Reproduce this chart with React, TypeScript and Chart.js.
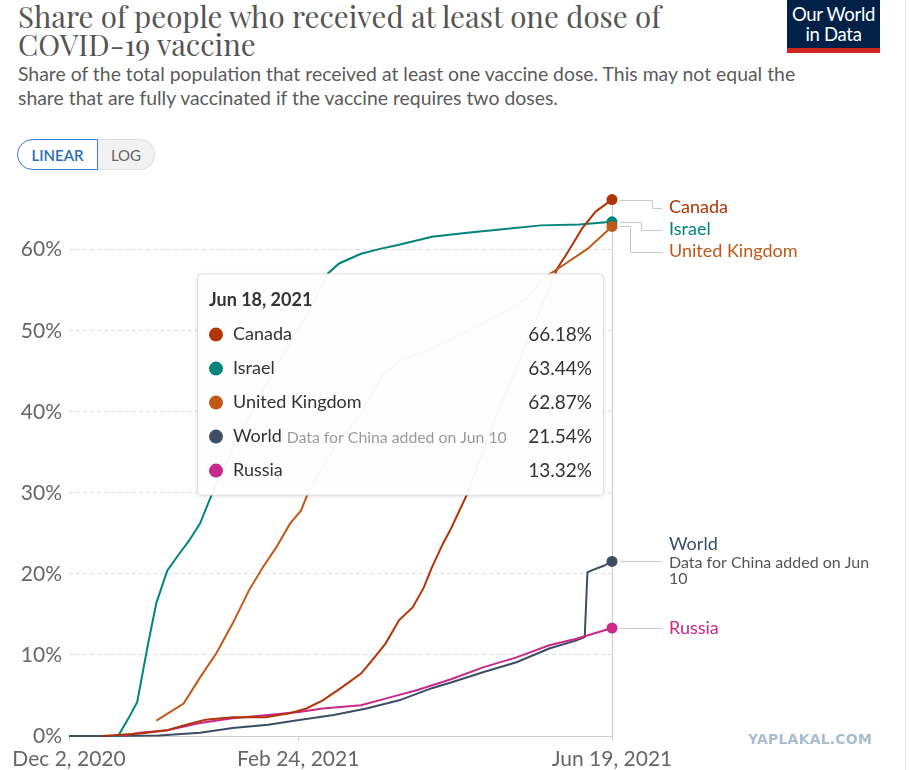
import React, { useEffect, useRef } from "react";
import { Chart, registerables } from "chart.js";

Chart.register(...registerables);

// ---------- data ----------
const tickDays = [0, 84, 199];
const tickLabels = ["Dec 2, 2020", "Feb 24, 2021", "Jun 19, 2021"];
const yTicks = [0, 10, 20, 30, 40, 50, 60];
const hoverTitle = "Jun 18, 2021";

const seriesNames = ["Canada", "Israel", "United Kingdom", "World", "Russia"];
const seriesColors = ["#B13507", "#00847E", "#C05917", "#3C4E66", "#C8298A"];
const seriesNotes = ["", "", "", "Data for China added on Jun 10", ""];
const drawOrder = [1, 2, 0, 4, 3];

const canadaDays = [12, 26, 36, 43, 50, 60, 72, 81, 87, 93, 100, 107, 111, 116, 121, 126, 130, 133, 137, 140, 146, 154, 166, 179, 183, 188, 193, 199];
const canadaValues = [0, 0.3, 0.7, 1.4, 2.0, 2.3, 2.3, 2.8, 3.4, 4.4, 6.0, 7.7, 9.3, 11.4, 14.3, 15.9, 18.3, 20.8, 23.7, 25.6, 29.9, 37.3, 47.1, 57.7, 59.8, 62.6, 64.7, 66.18];

const israelDays = [16, 18, 22, 25, 29, 32, 36, 40, 44, 48, 51, 53, 62, 69, 75, 82, 88, 93, 95, 99, 107, 114, 121, 133, 146, 158, 173, 187, 199];
const israelValues = [0, 0, 2.3, 4.2, 11.4, 16.4, 20.4, 22.3, 24.1, 26.2, 28.7, 30.3, 36.9, 41.3, 45.0, 49.1, 52.4, 55.7, 57.1, 58.3, 59.5, 60.1, 60.6, 61.6, 62.1, 62.5, 63.0, 63.1, 63.44];

const ukDays = [32, 42, 48, 54, 60, 66, 71, 76, 81, 85, 88, 97, 107, 115, 121, 133, 146, 158, 168, 174, 182, 190, 199];
const ukValues = [1.9, 4.0, 7.2, 10.2, 13.9, 18.0, 20.8, 23.3, 26.2, 27.8, 30.3, 35.5, 39.7, 44.6, 46.2, 47.8, 49.9, 52.0, 54.0, 56.5, 58.3, 60.1, 62.87];

const worldDays = [0, 14, 33, 48, 60, 73, 85, 97, 109, 121, 133, 140, 152, 164, 176, 186, 189, 190, 192, 196, 199];
const worldValues = [0, 0, 0.05, 0.4, 1.0, 1.4, 2.0, 2.6, 3.4, 4.4, 5.9, 6.6, 7.9, 9.1, 10.8, 11.8, 12.2, 20.2, 20.5, 21.0, 21.54];

const russiaDays = [19, 26, 36, 48, 60, 73, 85, 93, 107, 118, 128, 140, 152, 164, 176, 186, 193, 199];
const russiaValues = [0, 0.4, 0.7, 1.6, 2.2, 2.6, 3.0, 3.4, 3.8, 4.8, 5.7, 7.0, 8.5, 9.7, 11.2, 12.0, 12.7, 13.32];

const seriesDays = [canadaDays, israelDays, ukDays, worldDays, russiaDays];
const seriesValues = [canadaValues, israelValues, ukValues, worldValues, russiaValues];

const FONT = "Lato, 'Noto Sans', sans-serif";

function wrap(ctx: CanvasRenderingContext2D, text: string, maxW: number): string[] {
  const words = text.split(" ");
  const lines: string[] = [];
  let cur = "";
  for (const w of words) {
    const t = cur ? cur + " " + w : w;
    if (ctx.measureText(t).width > maxW && cur) {
      lines.push(cur);
      cur = w;
    } else cur = t;
  }
  if (cur) lines.push(cur);
  return lines;
}

const overlayPlugin = {
  id: "owidOverlay",
  beforeDatasetsDraw(chart: any) {
    const { ctx, chartArea, scales } = chart;
    const lastDay = Math.max(...seriesDays.map((d) => d[d.length - 1]));
    const x = Math.round(scales.x.getPixelForValue(lastDay)) + 0.5;
    ctx.save();
    ctx.strokeStyle = "#cccccc";
    ctx.lineWidth = 1;
    ctx.beginPath();
    ctx.moveTo(x, chartArea.top);
    ctx.lineTo(x, chartArea.bottom);
    ctx.stroke();
    ctx.restore();
  },
  afterDraw(chart: any) {
    const { ctx, chartArea, scales } = chart;
    const xs = scales.x;
    const ys = scales.y;
    ctx.save();

    // ---------- end labels ----------
    const labelX = chartArea.right + 57;
    const items = seriesNames.map((name, i) => {
      const d = seriesDays[i];
      const v = seriesValues[i];
      ctx.font = "16px " + FONT;
      const notes = seriesNotes[i] ? wrap(ctx, seriesNotes[i], 210) : [];
      const offsets = [0];
      notes.forEach((_, k) => offsets.push(18 + 16 * k));
      const span = offsets[offsets.length - 1];
      const dotX = xs.getPixelForValue(d[d.length - 1]);
      const dotY = ys.getPixelForValue(v[v.length - 1]);
      return { i, name, notes, offsets, span, dotX, dotY, nameY: dotY - span / 2, top: 0, bottom: 0 };
    });
    items.sort((a, b) => a.dotY - b.dotY);
    let prevBottom = chartArea.top - 3;
    items.forEach((it) => {
      let top = it.nameY - 11;
      if (top < prevBottom) top = prevBottom;
      it.nameY = top + 11;
      it.top = top;
      it.bottom = it.nameY + it.span + 11;
      prevBottom = it.bottom;
    });
    const groups: any[][] = [];
    items.forEach((it, k) => {
      if (k > 0 && Math.abs(it.top - items[k - 1].bottom) < 0.5) groups[groups.length - 1].push(it);
      else groups.push([it]);
    });
    groups.forEach((g) => {
      const n = g.length;
      g.forEach((it, k) => {
        const targetY = it.nameY + it.span / 2;
        const x0 = it.dotX + 8;
        const x1 = labelX - 7;
        ctx.strokeStyle = "#c8c8c8";
        ctx.lineWidth = 1;
        ctx.beginPath();
        if (Math.abs(targetY - it.dotY) < 1) {
          ctx.moveTo(x0, Math.round(it.dotY) + 0.5);
          ctx.lineTo(x1, Math.round(it.dotY) + 0.5);
        } else {
          const ex = Math.round(it.dotX + 18 + (n - 1 - k) * 11) + 0.5;
          ctx.moveTo(x0, Math.round(it.dotY) + 0.5);
          ctx.lineTo(ex, Math.round(it.dotY) + 0.5);
          ctx.lineTo(ex, Math.round(targetY) + 0.5);
          ctx.lineTo(x1, Math.round(targetY) + 0.5);
        }
        ctx.stroke();
        ctx.textBaseline = "middle";
        ctx.textAlign = "left";
        ctx.fillStyle = seriesColors[it.i];
        ctx.font = "18px " + FONT;
        ctx.fillText(it.name, labelX, it.nameY);
        ctx.font = "16px " + FONT;
        ctx.fillStyle = "#555555";
        it.notes.forEach((t: string, j: number) => ctx.fillText(t, labelX, it.nameY + it.offsets[j + 1]));
      });
    });

    // ---------- tooltip ----------
    const bx = chartArea.left + 128;
    const by = chartArea.top + 74;
    const bw = 407;
    const bh = 222;
    ctx.save();
    ctx.shadowColor = "rgba(0,0,0,0.12)";
    ctx.shadowBlur = 4;
    ctx.shadowOffsetY = 1;
    ctx.fillStyle = "rgba(255,255,255,0.96)";
    ctx.beginPath();
    ctx.roundRect(bx, by, bw, bh, 4);
    ctx.fill();
    ctx.restore();
    ctx.strokeStyle = "rgba(0,0,0,0.12)";
    ctx.lineWidth = 1;
    ctx.beginPath();
    ctx.roundRect(bx + 0.5, by + 0.5, bw - 1, bh - 1, 4);
    ctx.stroke();

    ctx.textBaseline = "middle";
    ctx.textAlign = "left";
    ctx.fillStyle = "#333333";
    ctx.font = "bold 18px " + FONT;
    ctx.fillText(hoverTitle, bx + 12, by + 27);

    const rows = seriesNames
      .map((name, i) => ({ name, i, v: seriesValues[i][seriesValues[i].length - 1] }))
      .sort((a, b) => b.v - a.v);
    rows.forEach((r, k) => {
      const cy = by + 61 + 34 * k;
      ctx.fillStyle = seriesColors[r.i];
      ctx.beginPath();
      ctx.arc(bx + 19, cy, 7, 0, Math.PI * 2);
      ctx.fill();
      ctx.textAlign = "left";
      ctx.fillStyle = "#333333";
      ctx.font = "18px " + FONT;
      ctx.fillText(r.name, bx + 36, cy);
      if (seriesNotes[r.i]) {
        const w = ctx.measureText(r.name).width;
        ctx.font = "15.8px " + FONT;
        ctx.fillStyle = "#9a9a9a";
        ctx.fillText(seriesNotes[r.i], bx + 36 + w + 5, cy + 1);
      }
      ctx.textAlign = "right";
      ctx.fillStyle = "#333333";
      ctx.font = "19px " + FONT;
      ctx.fillText(r.v.toFixed(2) + "%", bx + bw - 12, cy);
    });
    ctx.restore();
  },
};

export default function App() {
  const ref = useRef<HTMLCanvasElement>(null);

  useEffect(() => {
    const canvas = ref.current;
    if (!canvas) return;
    const maxVal = Math.max(...seriesValues.map((v) => Math.max(...v)));
    const maxDay = Math.max(...seriesDays.map((d) => d[d.length - 1]));
    const datasets = seriesNames.map((name, i) => ({
      label: name,
      data: seriesDays[i].map((d, j) => ({ x: d, y: seriesValues[i][j] })),
      borderColor: seriesColors[i],
      backgroundColor: seriesColors[i],
      pointBackgroundColor: seriesColors[i],
      borderWidth: 2,
      pointRadius: (c: any) => (c.dataIndex === seriesDays[i].length - 1 ? 5.5 : 0),
      pointBorderWidth: 0,
      tension: 0,
      clip: false,
      order: drawOrder[i],
    }));
    const chart = new Chart(canvas, {
      type: "line",
      data: { datasets },
      options: {
        animation: false,
        responsive: false,
        events: [],
        layout: { padding: { top: 18, right: 297, left: 0, bottom: 0 } },
        plugins: { legend: { display: false }, tooltip: { enabled: false } },
        scales: {
          x: {
            type: "linear",
            min: 0,
            max: maxDay,
            afterBuildTicks: (axis: any) => {
              axis.ticks = tickDays.map((v) => ({ value: v }));
            },
            afterFit: (scale: any) => {
              scale.height = 34;
            },
            ticks: {
              autoSkip: false,
              maxRotation: 0,
              padding: 6,
              color: "#666666",
              font: { family: FONT, size: 21 },
              callback: (value: any) => {
                const k = tickDays.indexOf(Number(value));
                return k >= 0 ? tickLabels[k] : "";
              },
            },
            grid: { display: true, drawOnChartArea: false, drawTicks: true, tickLength: 5, color: "#cccccc" },
            border: { display: true, color: "#cccccc" },
          },
          y: {
            type: "linear",
            min: 0,
            max: maxVal,
            afterBuildTicks: (axis: any) => {
              axis.ticks = yTicks.map((v) => ({ value: v }));
            },
            afterFit: (scale: any) => {
              scale.width = 69;
            },
            ticks: {
              padding: 7,
              color: "#666666",
              font: { family: FONT, size: 21 },
              callback: (value: any) => value + "%",
            },
            grid: { color: "#dddddd", drawTicks: false },
            border: { display: false, dash: [4, 3] },
          },
        },
      },
      plugins: [overlayPlugin],
    } as any);
    return () => chart.destroy();
  }, []);

  return (
    <div style={{ position: "absolute", left: 0, top: 0, width: 909, height: 770, overflow: "hidden", background: "#fff" }}>
      <div
        style={{
          position: "absolute",
          left: 18,
          top: 2,
          width: 760,
          fontFamily: "'Playfair Display', 'Liberation Serif', serif",
          fontSize: 29.5,
          lineHeight: "28px",
          color: "#555555",
          whiteSpace: "nowrap",
        }}
      >
        Share of people who received at least one dose of
        <br />
        COVID-19 vaccine
      </div>
      <div
        style={{
          position: "absolute",
          left: 18,
          top: 62,
          width: 880,
          fontFamily: FONT,
          fontSize: 19.4,
          lineHeight: "24px",
          color: "#5b5b5b",
          whiteSpace: "nowrap",
        }}
      >
        Share of the total population that received at least one vaccine dose. This may not equal the
        <br />
        share that are fully vaccinated if the vaccine requires two doses.
      </div>
      <div
        style={{
          position: "absolute",
          left: 787,
          top: 0,
          width: 93,
          height: 44,
          background: "#002147",
          borderBottom: "5px solid #CE261E",
          color: "#ffffff",
          fontFamily: FONT,
          fontSize: 18.5,
          lineHeight: "20px",
          textAlign: "center",
          paddingTop: 4,
          boxSizing: "content-box",
          letterSpacing: -0.3,
        }}
      >
        Our World
        <br />
        in Data
      </div>
      <div style={{ position: "absolute", left: 17, top: 139, height: 31, display: "flex", fontFamily: FONT, fontSize: 15 }}>
        <div
          style={{
            width: 79,
            height: 29,
            border: "1px solid #3a7bc8",
            borderRadius: "16px 0 0 16px",
            color: "#2a6ebb",
            background: "#fff",
            display: "flex",
            alignItems: "center",
            justifyContent: "center",
            fontWeight: 600,
          }}
        >
          LINEAR
        </div>
        <div
          style={{
            width: 56,
            height: 29,
            border: "1px solid #dddddd",
            borderLeft: "none",
            borderRadius: "0 16px 16px 0",
            color: "#666666",
            background: "#f2f2f2",
            display: "flex",
            alignItems: "center",
            justifyContent: "center",
          }}
        >
          LOG
        </div>
      </div>
      <canvas ref={ref} width={909} height={590} style={{ position: "absolute", left: 0, top: 180, width: 909, height: 590 }} />
      <div
        style={{
          position: "absolute",
          left: 748,
          top: 731,
          fontFamily: "'DejaVu Sans', sans-serif",
          fontWeight: 900,
          fontSize: 14,
          letterSpacing: 0.2,
          color: "#a9bdd0",
        }}
      >
        YAPLAKAL.COM
      </div>
      <div style={{ position: "absolute", left: 905, top: 0, width: 1, height: 770, background: "#e2e2e2" }} />
    </div>
  );
}
